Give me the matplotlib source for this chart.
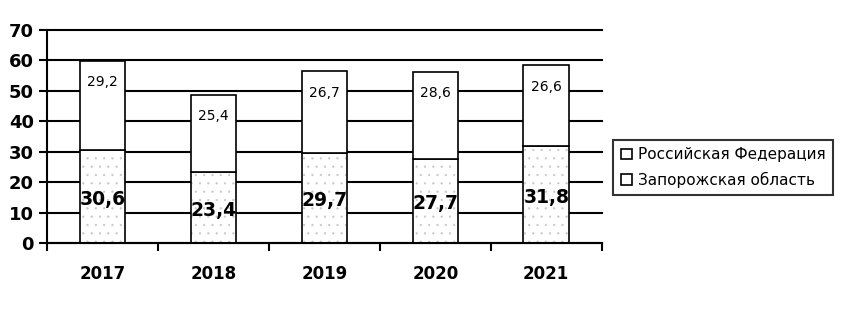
import matplotlib
matplotlib.use("Agg")
import matplotlib.pyplot as plt
import numpy as np

years = ["2017", "2018", "2019", "2020", "2021"]
zaporozhye = [30.6, 23.4, 29.7, 27.7, 31.8]
russia = [29.2, 25.4, 26.7, 28.6, 26.6]
zap_labels = ["30,6", "23,4", "29,7", "27,7", "31,8"]
rus_labels = ["29,2", "25,4", "26,7", "28,6", "26,6"]

plt.rcParams["font.family"] = "DejaVu Sans"
plt.rcParams["hatch.linewidth"] = 0.4

fig = plt.figure(figsize=(8.52, 3.13), dpi=100)
ax = fig.add_axes([0.0552, 0.2236, 0.651, 0.6804])

x = np.arange(len(years))
ax.set_axisbelow(True)
ax.grid(axis="y", color="black", linewidth=1.5)
for gl in ax.get_ygridlines():
    gl.set_clip_on(False)

# faint dotted fill for the lower segment, then the black outline on top
ax.bar(x, zaporozhye, width=0.41, color="white", edgecolor="#c8c8c8",
       linewidth=0, hatch="..")
b1 = ax.bar(x, zaporozhye, width=0.41, fill=False, edgecolor="black",
            linewidth=1.2, label="Запорожская область")
b2 = ax.bar(x, russia, width=0.41, bottom=zaporozhye, color="white",
            edgecolor="black", linewidth=1.2, label="Российская Федерация")

for i in range(len(years)):
    ax.text(x[i], zaporozhye[i] / 2 - 1, zap_labels[i], ha="center", va="center",
            fontsize=13.5, fontweight="bold", zorder=5)
    ax.text(x[i], zaporozhye[i] + russia[i] - 7, rus_labels[i], ha="center",
            va="center", fontsize=10, zorder=5)

ax.set_xlim(-0.5, len(years) - 0.5)
ax.set_ylim(0, 70)
ax.set_yticks(range(0, 71, 10))
ax.set_xticks(np.arange(-0.5, len(years), 1.0))
ax.set_xticklabels([])
ax.set_xticks(x, minor=True)
ax.set_xticklabels(years, minor=True, fontsize=12, fontweight="bold")
ax.tick_params(axis="x", which="major", direction="out", length=6, width=1.5)
ax.tick_params(axis="x", which="minor", length=0, pad=16)
ax.tick_params(axis="y", direction="out", length=6, width=1.5, labelsize=13)
for lbl in ax.get_yticklabels():
    lbl.set_fontweight("bold")

for side in ["top", "right"]:
    ax.spines[side].set_visible(False)
ax.spines["left"].set_linewidth(1.5)
ax.spines["bottom"].set_linewidth(1.5)

leg = fig.legend([b2, b2], ["Российская Федерация", "Запорожская область"],
                 loc="upper left", bbox_to_anchor=(0.711, 0.578),
                 fontsize=11, frameon=True, fancybox=False,
                 handlelength=0.7, handleheight=0.7, handletextpad=0.4,
                 borderpad=0.5, labelspacing=0.6)
leg.get_frame().set_edgecolor("black")
leg.get_frame().set_linewidth(1.5)

fig.savefig("out.png", dpi=100)
